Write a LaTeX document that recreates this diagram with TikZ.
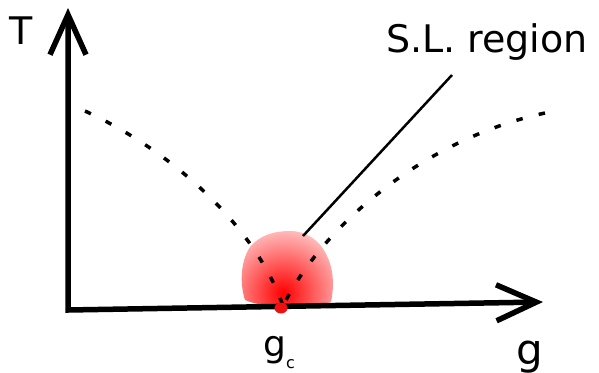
\documentclass[tikz,border=0pt]{standalone}
\usepackage{fontspec}
\setmainfont{DejaVu Sans}
\usepackage{tikz}
\usetikzlibrary{positioning,arrows.meta,calc}
\definecolor{hot}{HTML}{EE1111}
\tikzset{
  axis/.style={line width=5.5pt, line join=miter, {Straight Barb[length=40pt, width=36pt]}-{Straight Barb[length=40pt, width=36pt]}},
  crit/.style={line width=3.5pt, dash pattern=on 6.5pt off 16.5pt},
  pin/.style ={line width=2.5pt},
  lab/.style ={inner sep=0pt, font=\fontsize{38}{40}\selectfont},
  big/.style ={inner sep=0pt, font=\fontsize{42}{46}\selectfont},
  mid/.style ={inner sep=0pt, font=\fontsize{36}{38}\selectfont},
}

\begin{document}
\begin{tikzpicture}[x=1pt, y=-1pt]
  \useasboundingbox (0,0) rectangle (599,372);
  % scaling region around g_c
  \begin{scope}
    \clip (245,300) .. controls (240,285) and (240,262) .. (250,247)
      .. controls (260,235) and (274,231) .. (290,231)
      .. controls (306,231) and (320,240) .. (327,256)
      .. controls (334,270) and (334,288) .. (331,302)
      .. controls (310,309) and (265,309) .. (245,300) -- cycle;
    \shade[inner color=red, outer color=red!12] (283,293) circle (75);
  \end{scope}
  \coordinate (O) at (68,310);
  \coordinate (Ttip) at (68,8);
  \coordinate (gtip) at (543,302);
  \coordinate (gc) at (283,306);
  \draw[axis] (Ttip) -- (O) -- (gtip);
  % crossover lines
  \draw[crit] (85,111) .. controls (170,150) and (255,225) .. (gc);
  \draw[crit] (545,113) .. controls (420,140) and (320,230) .. (gc);
  \node[lab] (T) at (21,31) {T};
  \node[lab, anchor=base] (sl) at (487,52) {S.L. region};
  \node[big, anchor=base] (g) at (530,364) {g};
  \node[mid, anchor=base west] (gcl) at (263,356) {g\raisebox{-12pt}{\fontsize{16}{16}\selectfont c}};
  \coordinate (slend) at (452,75);
  \coordinate (blobpt) at (303,236);
  \draw[pin] (blobpt) -- (slend);
  \fill[hot] (281,308) ellipse [x radius=6.5, y radius=5.5];
\end{tikzpicture}
\end{document}
